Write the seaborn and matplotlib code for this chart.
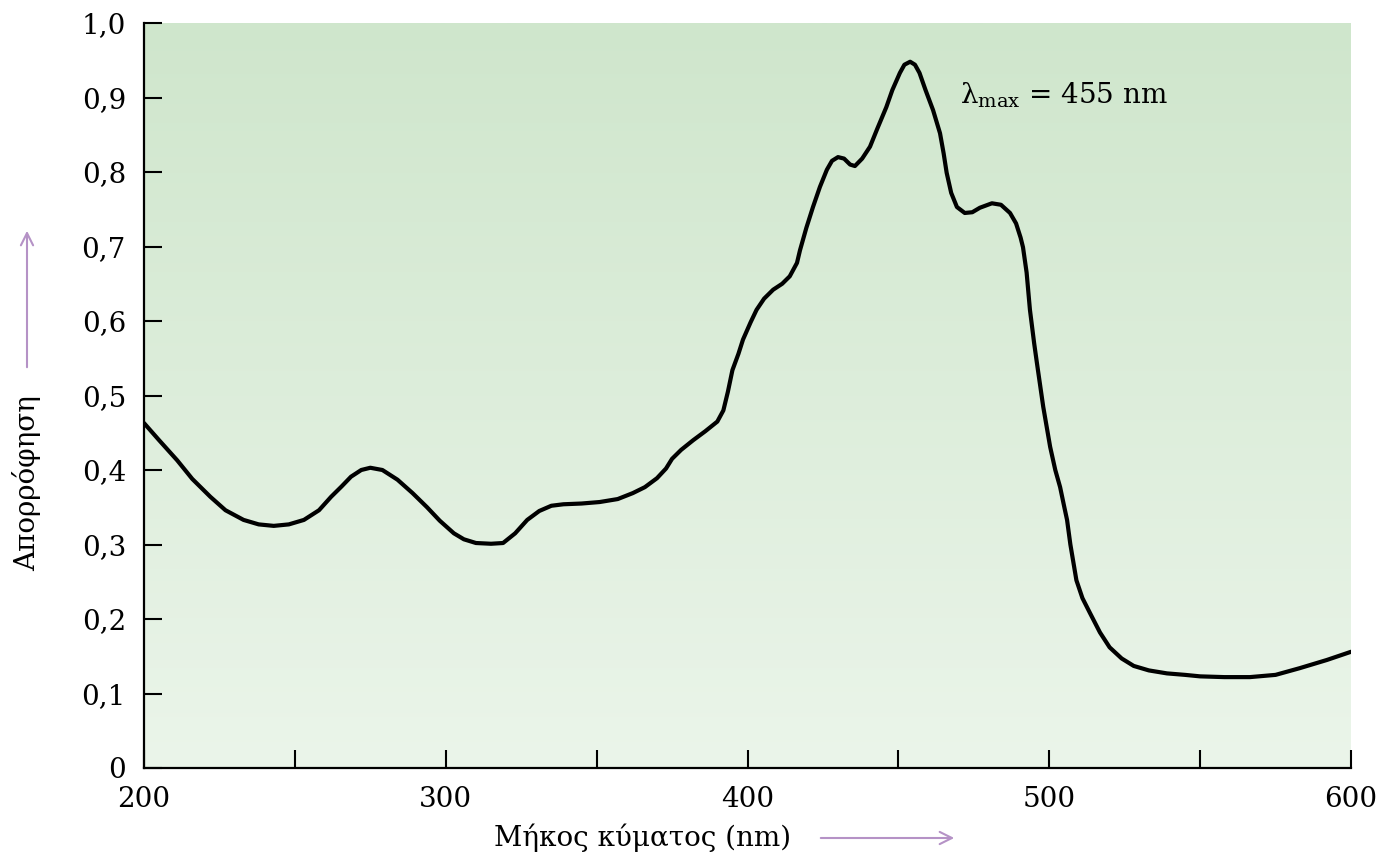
import numpy as np
import pandas as pd
import seaborn as sns
import matplotlib.pyplot as plt
from matplotlib.colors import LinearSegmentedColormap

# absorption spectrum
wavelength = [200, 205, 211, 216, 222, 227, 233, 238, 243, 248, 253, 258, 262, 265.5,
              268.6, 272, 275, 279, 284, 289, 293.8, 298, 302.7, 306, 310, 315, 319,
              323, 327, 331, 335, 339, 345, 351, 357, 362, 366, 370, 373, 375, 378,
              382, 386, 390, 392, 393.5, 395, 397, 398.5, 401, 403, 405.5, 408.5,
              411.5, 414, 416.4, 417.4, 419.5, 421.7, 424, 426.3, 428, 430, 432, 434,
              435.6, 438, 440.6, 443, 446, 448, 450.5, 452, 453.9, 455.5, 457, 459,
              461.5, 463.8, 465, 466, 467.5, 469.4, 472, 474.5, 477, 481, 484, 487,
              489, 490.5, 491.3, 492.5, 493.6, 495, 495.9, 498, 500.3, 502, 503.6,
              505, 505.9, 507, 509, 511, 513.5, 516.8, 520, 524, 528, 533, 539, 545,
              550, 558, 566.5, 575, 583, 592, 600]
absorbance = [0.463, 0.440, 0.413, 0.388, 0.364, 0.346, 0.333, 0.327, 0.325, 0.327,
              0.333, 0.346, 0.364, 0.378, 0.391, 0.400, 0.403, 0.400, 0.387, 0.369,
              0.350, 0.332, 0.315, 0.307, 0.302, 0.301, 0.302, 0.315, 0.333, 0.345,
              0.352, 0.354, 0.355, 0.357, 0.361, 0.369, 0.377, 0.389, 0.402, 0.415,
              0.427, 0.440, 0.452, 0.465, 0.480, 0.505, 0.534, 0.556, 0.575, 0.598,
              0.615, 0.630, 0.642, 0.650, 0.660, 0.678, 0.695, 0.725, 0.753, 0.780,
              0.803, 0.815, 0.820, 0.818, 0.810, 0.808, 0.818, 0.834, 0.858, 0.887,
              0.910, 0.933, 0.944, 0.948, 0.944, 0.933, 0.910, 0.883, 0.852, 0.825,
              0.799, 0.772, 0.753, 0.745, 0.746, 0.752, 0.758, 0.756, 0.745, 0.731,
              0.712, 0.699, 0.665, 0.615, 0.570, 0.544, 0.485, 0.431, 0.400, 0.377,
              0.350, 0.333, 0.300, 0.252, 0.228, 0.208, 0.182, 0.162, 0.147, 0.137,
              0.131, 0.127, 0.125, 0.123, 0.122, 0.122, 0.125, 0.134, 0.145, 0.156]

xticks = [200, 250, 300, 350, 400, 450, 500, 550, 600]
xticklabels = ['200', '', '300', '', '400', '', '500', '', '600']
yticks = [0, 0.1, 0.2, 0.3, 0.4, 0.5, 0.6, 0.7, 0.8, 0.9, 1.0]
yticklabels = ['0', '0,1', '0,2', '0,3', '0,4', '0,5', '0,6', '0,7', '0,8', '0,9', '1,0']

df = pd.DataFrame({'nm': wavelength, 'abs': absorbance})

sns.set_style('ticks')
plt.rcParams['font.family'] = ['DejaVu Serif']
plt.rcParams['mathtext.fontset'] = 'dejavuserif'
plt.rcParams['text.color'] = 'black'
plt.rcParams['xtick.color'] = 'black'
plt.rcParams['ytick.color'] = 'black'
plt.rcParams['axes.edgecolor'] = 'black'

purple = '#b592c6'
W, H = 1381, 859

fig = plt.figure(figsize=(13.81, 8.59), dpi=100)
ax = fig.add_axes([144 / W, 1 - 768 / H, (1351 - 144) / W, (768 - 23) / H])

# green vertical gradient behind the curve
bg = LinearSegmentedColormap.from_list('bg', ['#ebf5ea', '#cfe6cc'])
ax.imshow(np.linspace(0, 1, 256).reshape(-1, 1), cmap=bg, origin='lower',
          extent=[200, 600, 0, 1], aspect='auto', zorder=0)

sns.lineplot(data=df, x='nm', y='abs', color='black', lw=3.0, ax=ax, zorder=3)
ax.lines[-1].set_solid_joinstyle('round')

ax.set_xlim(200, 600)
ax.set_ylim(0, 1)
ax.set_xticks(xticks)
ax.set_xticklabels(xticklabels)
ax.set_yticks(yticks)
ax.set_yticklabels(yticklabels)
ax.set_xlabel('')
ax.set_ylabel('')
for s in ['top', 'right']:
    ax.spines[s].set_visible(False)
for s in ['left', 'bottom']:
    ax.spines[s].set_linewidth(1.6)
ax.tick_params(direction='in', length=13, width=1.5, labelsize=20, pad=13,
               color='black', labelcolor='black')

ax.text(470.5, 0.903, 'λ$_{\\mathrm{max}}$ = 455 nm', fontsize=20, va='center')

# axis titles with arrows
fig.text(643 / W, 1 - 838 / H, 'Μήκος κύματος (nm)', ha='center', va='center', fontsize=20)
fig.text(27 / W, 1 - 483 / H, 'Απορρόφηση', rotation=90, ha='center', va='center', fontsize=20)
arrow = dict(arrowstyle='->', color=purple, lw=1.5, mutation_scale=22)
ax.annotate('', xy=(957 / W, 1 - 838 / H), xytext=(818 / W, 1 - 838 / H),
            xycoords='figure fraction', textcoords='figure fraction', arrowprops=arrow)
ax.annotate('', xy=(27 / W, 1 - 228 / H), xytext=(27 / W, 1 - 370 / H),
            xycoords='figure fraction', textcoords='figure fraction', arrowprops=arrow)

fig.savefig('out.png', dpi=100)
